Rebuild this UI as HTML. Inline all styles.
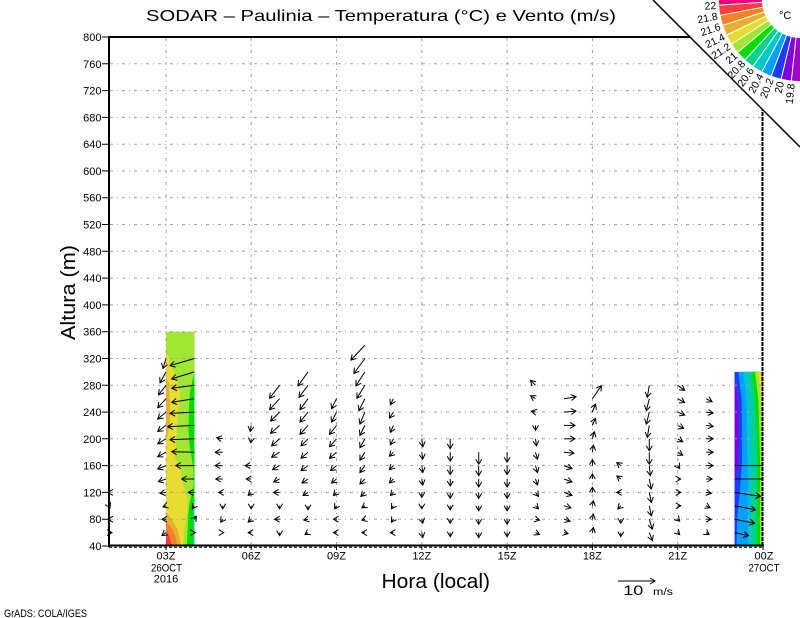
<!DOCTYPE html>
<html><head><meta charset="utf-8"><style>
html,body{margin:0;padding:0;background:#fff;}
svg{display:block;}
text{font-family:"Liberation Sans",sans-serif;fill:#000;}
</style></head><body>
<svg width="800" height="618" viewBox="0 0 800 618" xmlns="http://www.w3.org/2000/svg">
<defs>
<marker id="h" markerUnits="userSpaceOnUse" markerWidth="10" markerHeight="10" refX="6" refY="5" orient="auto" overflow="visible">
<path d="M1 2 L6 5 L1 8" fill="none" stroke="#000" stroke-width="1"/>
</marker>
</defs>
<rect width="800" height="618" fill="#fff"/>

<!-- 03Z shaded column -->
<rect x="166" y="331.7" width="28.5" height="214.3" fill="#a0e632"/>
<polygon fill="#e6dc32" points="166,355 168,355 175,375 180,392 180,402 178,412 176.7,435 175,458 180,468 183,485 188,500 187,512 185,525 183,546 166,546"/>
<polygon fill="#e6af2d" points="166,378 169,383 170,400 170,425 166,440"/>
<polygon fill="#e6af2d" points="166,512 172,520 178,530 181,546 166,546"/>
<polygon fill="#f08228" points="166,522 171,527 176,538 177,546 166,546"/>
<polygon fill="#fa3c3c" points="166,530 169,535 172,546 166,546"/>
<polygon fill="#f00082" points="166,538 168,546 166,546"/>
<polygon fill="#00dc00" points="194.5,373 192,382 190,392 189,405 188.5,430 189.5,445 191.7,458 193.5,470 193.5,485 191.7,495 189.5,503 188.3,515 187.7,530 186.7,546 194.5,546"/>
<polygon fill="#00d28c" points="194.5,505 193,512 192.5,546 194.5,546"/>

<!-- 23Z shaded column -->
<rect x="734.5" y="371.9" width="28.5" height="174.1" fill="#1e3cff"/>
<polygon fill="#8200dc" points="734.5,385 737,390 738.3,410 738.3,450 737.5,470 734.5,478"/>
<polygon fill="#00a0ff" points="738.3,371.9 741.7,400 742,430 742,460 740,490 737,520 736.5,546 763,546 763,371.9"/>
<polygon fill="#00c8c8" points="743.3,371.9 746.7,400 747,430 747.5,460 748.5,490 748,520 748,546 763,546 763,371.9"/>
<polygon fill="#00d28c" points="748.3,371.9 751.7,400 751.5,430 752,460 752,490 752,520 751.7,546 763,546 763,371.9"/>
<polygon fill="#00dc00" points="751.7,371.9 755,400 756.7,430 757.5,460 757,490 756.7,520 756.7,546 763,546 763,371.9"/>
<polygon fill="#a0e632" points="755,371.9 758.3,400 759.3,430 760,460 760,490 760,520 760,546 763,546 763,371.9"/>
<polygon fill="#e6dc32" points="758.3,371.9 761,400 761.7,430 762.5,460 763,475 763,371.9"/>
<polygon fill="#e6af2d" points="761,371.9 762,390 763,400 763,371.9"/>

<!-- grid -->
<g stroke="#a0a0a0" stroke-width="1" stroke-dasharray="3 4 1 4" fill="none">
<path d="M110 519.2H762M110 492.4H762M110 465.6H762M110 438.8H762M110 412.1H762M110 385.3H762M110 358.5H762M110 331.7H762M110 304.9H762M110 278.1H762M110 251.3H762M110 224.5H762M110 197.7H762M110 170.9H762M110 144.2H762M110 117.4H762M110 90.6H762M110 63.8H762"/>
<path d="M166 38V545M251.2 38V545M336.5 38V545M421.8 38V545M507.1 38V545M592.4 38V545M677.7 38V545"/>
</g>

<!-- wind arrows -->
<g fill="none" stroke="#000" stroke-width="1" style="marker-end:url(#h)">
<path d="M109 492.4l-1 0"/><path d="M109 505.8l1 2"/><path d="M109 519.2l-1 0"/><path d="M109 532.6l3 0"/>

<path d="M166 358.5l-3 10"/><path d="M166 371.9l-6 11"/><path d="M166 385.3l-7.5 9.5"/><path d="M166 398.7l-8.3 9"/><path d="M166 412.1l-8.3 7"/><path d="M166 425.4l-8.3 6"/><path d="M166 438.8l-8.3 5"/><path d="M166 452.2l-8.3 4.5"/><path d="M166 465.6l-8.3 3.4"/><path d="M166 479l-7.7 2.7"/><path d="M166 492.4l-6 1"/><path d="M166 505.8l-3 1"/><path d="M166 519.2l-4 0"/><path d="M166 532.6l-4 3"/>

<path d="M194.3 358.5l-24.3 7.2"/><path d="M194.3 371.9l-22.6 7"/><path d="M194.3 385.3l-22.6 3"/><path d="M194.3 398.7l-22.6 3.6"/><path d="M194.3 412.1l-24.3 1.3"/><path d="M194.3 425.4l-26.6 1.3"/><path d="M194.3 438.8l-24.3 1"/><path d="M194.3 452.2l-22.6 -0.5"/><path d="M194.3 465.6l-18.6 0"/><path d="M194.3 479l-12.6 0"/><path d="M194.3 492.4l-6 0"/><path d="M194.3 505.8l-2 3"/><path d="M194.3 519.2l2 -3"/><path d="M194.3 532.6l1 0"/>

<path d="M222.7 438.8l-6 -1"/><path d="M222.7 452.2l-7.5 0"/><path d="M222.7 465.6l-7.5 0"/><path d="M222.7 479l-7 0"/><path d="M222.7 492.4l-4 0"/><path d="M222.7 505.8l0 3"/><path d="M222.7 519.2l-2 3"/><path d="M222.7 532.6l1 0"/>

<path d="M251.2 425.4l-1 6"/><path d="M251.2 438.8l-0.5 4"/><path d="M251.2 465.6l-6 0"/><path d="M251.2 479l-5 0"/><path d="M251.2 492.4l-3 3"/><path d="M251.2 505.8l0 3"/><path d="M251.2 519.2l-3 3"/><path d="M251.2 532.6l-3 0"/>

<path d="M279.6 385.3l-10 13"/><path d="M279.6 398.7l-10 11"/><path d="M279.6 412.1l-9 9"/><path d="M279.6 425.4l-9 8"/><path d="M279.6 438.8l-8 7"/><path d="M279.6 452.2l-8 5"/><path d="M279.6 465.6l-7 4"/><path d="M279.6 479l-6 3"/><path d="M279.6 492.4l-6 0"/><path d="M279.6 505.8l0 3"/><path d="M279.6 519.2l-5 0"/><path d="M279.6 532.6l0 3"/>

<path d="M308 371.9l-10 14"/><path d="M308 385.3l-9 12"/><path d="M308 398.7l-8 11"/><path d="M308 412.1l-8 10"/><path d="M308 425.4l-8 9"/><path d="M308 438.8l-7 7"/><path d="M308 452.2l-7 6"/><path d="M308 465.6l-7 5"/><path d="M308 479l-6 4"/><path d="M308 492.4l-5 3"/><path d="M308 505.8l0 4"/><path d="M308 519.2l-4 1"/><path d="M308 532.6l-3 2"/>

<path d="M336.5 398.7l-5 10"/><path d="M336.5 412.1l-5 10"/><path d="M336.5 425.4l-7 9"/><path d="M336.5 438.8l-7 8"/><path d="M336.5 452.2l-7 6"/><path d="M336.5 465.6l-6 5"/><path d="M336.5 479l-5 4"/><path d="M336.5 492.4l-3 3"/><path d="M336.5 505.8l-2 3"/><path d="M336.5 519.2l-3 0"/><path d="M336.5 532.6l-3 0"/>

<path d="M364.9 345.1l-14 15"/><path d="M364.9 358.5l-11 15"/><path d="M364.9 371.9l-9 14"/><path d="M364.9 385.3l-8 13"/><path d="M364.9 398.7l-6 12"/><path d="M364.9 412.1l-5 12"/><path d="M364.9 425.4l-5 10"/><path d="M364.9 438.8l-5 9"/><path d="M364.9 452.2l-5 8"/><path d="M364.9 465.6l-5 7"/><path d="M364.9 479l-5 5"/><path d="M364.9 492.4l-4 4"/><path d="M364.9 505.8l-3 2"/><path d="M364.9 519.2l-3 1"/><path d="M364.9 532.6l-3 0"/>

<path d="M393.4 398.7l-3 6"/><path d="M393.4 412.1l-4 6"/><path d="M393.4 425.4l-3 7"/><path d="M393.4 438.8l-3 6"/><path d="M393.4 452.2l-4 4"/><path d="M393.4 465.6l-4 4"/><path d="M393.4 479l-4 4"/><path d="M393.4 492.4l-3 3"/><path d="M393.4 505.8l-2 3"/><path d="M393.4 519.2l-2 3"/><path d="M393.4 532.6l-3 0"/>

<path d="M421.8 438.8l1 8"/><path d="M421.8 452.2l1 7"/><path d="M421.8 465.6l1 7"/><path d="M421.8 479l1 6"/><path d="M421.8 492.4l0 5"/><path d="M421.8 505.8l0 3"/><path d="M421.8 519.2l1 4"/><path d="M421.8 532.6l1 5"/>

<path d="M450.2 438.8l0 10"/><path d="M450.2 452.2l0 9"/><path d="M450.2 465.6l0 9"/><path d="M450.2 479l0 7"/><path d="M450.2 492.4l0 6"/><path d="M450.2 505.8l0 4"/><path d="M450.2 519.2l0 4"/><path d="M450.2 532.6l0 4"/>

<path d="M478.7 452.2l0 12"/><path d="M478.7 465.6l0 10"/><path d="M478.7 479l0 8"/><path d="M478.7 492.4l0 6"/><path d="M478.7 505.8l0 5"/><path d="M478.7 519.2l0 5"/><path d="M478.7 532.6l0 5"/>

<path d="M507.1 452.2l0 10"/><path d="M507.1 465.6l0 9"/><path d="M507.1 479l0 8"/><path d="M507.1 492.4l0 6"/><path d="M507.1 505.8l0 5"/><path d="M507.1 519.2l0 5"/><path d="M507.1 532.6l0 4"/>

<path d="M535.5 385.3l-5 -5"/><path d="M535.5 398.7l-5 -3"/><path d="M535.5 412.1l-4 -1"/><path d="M535.5 425.4l0 5"/><path d="M535.5 438.8l1 7"/><path d="M535.5 452.2l2 7"/><path d="M535.5 465.6l2 7"/><path d="M535.5 479l2 6"/><path d="M535.5 492.4l3 4"/><path d="M535.5 505.8l3 3"/><path d="M535.5 519.2l4 1"/><path d="M535.5 532.6l4 2"/>

<path d="M564 398.7l12 -2"/><path d="M564 412.1l12 -1"/><path d="M564 425.4l11 0"/><path d="M564 438.8l11 0"/><path d="M564 452.2l10 1"/><path d="M564 465.6l8 3"/><path d="M564 479l8 3"/><path d="M564 492.4l8 3"/><path d="M564 505.8l7 2"/><path d="M564 519.2l6 2"/><path d="M564 532.6l4 1"/>

<path d="M592.4 398.7l9 -13"/><path d="M592.4 412.1l3 -8"/><path d="M592.4 425.4l3 -7"/><path d="M592.4 438.8l2 -7"/><path d="M592.4 452.2l1 -7"/><path d="M592.4 465.6l0 -6"/><path d="M592.4 479l0 -5"/><path d="M592.4 492.4l0 -5"/><path d="M592.4 505.8l1 -5"/><path d="M592.4 519.2l1 -5"/><path d="M592.4 532.6l1 -5"/>

<path d="M620.8 465.6l-4 -3"/><path d="M620.8 479l-4 -3"/><path d="M620.8 492.4l-4 0"/><path d="M620.8 505.8l-3 3"/><path d="M620.8 519.2l0 4"/><path d="M620.8 532.6l0 4"/>

<path d="M649.3 385.3l-2 12"/><path d="M649.3 398.7l-3 12"/><path d="M649.3 412.1l-3 12"/><path d="M649.3 425.4l-2 12"/><path d="M649.3 438.8l0 12"/><path d="M649.3 452.2l0 12"/><path d="M649.3 465.6l1 10"/><path d="M649.3 479l2 10"/><path d="M649.3 492.4l2 10"/><path d="M649.3 505.8l2 10"/><path d="M649.3 519.2l3 10"/><path d="M649.3 532.6l3 8"/>

<path d="M677.7 385.3l7 5"/><path d="M677.7 398.7l7 4"/><path d="M677.7 412.1l7 3"/><path d="M677.7 425.4l6 3"/><path d="M677.7 438.8l5 3"/><path d="M677.7 452.2l5 3"/><path d="M677.7 465.6l2 3"/><path d="M677.7 479l3 0"/><path d="M677.7 492.4l3 0"/><path d="M677.7 505.8l3 0"/><path d="M677.7 519.2l2 2"/><path d="M677.7 532.6l2 2"/>

<path d="M706.1 398.7l6 3"/><path d="M706.1 412.1l7 1"/><path d="M706.1 425.4l7 1"/><path d="M706.1 438.8l7 0"/><path d="M706.1 452.2l7 0"/><path d="M706.1 465.6l7 0"/><path d="M706.1 479l6 0"/><path d="M706.1 492.4l5 1"/><path d="M706.1 505.8l4 2"/><path d="M706.1 519.2l5 0"/><path d="M706.1 532.6l3 2"/>

<path d="M734.6 492.4l26 4"/><path d="M734.6 505.8l21 4"/><path d="M734.6 519.2l20 4"/><path d="M734.6 532.6l14 3"/>

<!-- reference arrow -->
<path d="M618 581H655"/>
</g>
<path d="M734.6 465.6H763M734.6 479H763" stroke="#000" stroke-width="1" fill="none"/>

<!-- frame -->
<g stroke="#000" fill="none">
<path d="M108 37H763" stroke-width="2"/>
<path d="M109 36V547" stroke-width="2"/>
<path d="M108 545.5H764" stroke-width="2"/>
<path d="M109 547.3H763" stroke-width="1" stroke-dasharray="3 2"/>
<path d="M762.5 37V546" stroke-width="2" stroke-dasharray="4 1"/>
<path d="M102 37h7M102 63.8h7M102 90.6h7M102 117.4h7M102 144.2h7M102 170.9h7M102 197.7h7M102 224.5h7M102 251.3h7M102 278.1h7M102 304.9h7M102 331.7h7M102 358.5h7M102 385.3h7M102 412.1h7M102 438.8h7M102 465.6h7M102 492.4h7M102 519.2h7M102 546h7" stroke-width="1"/>
<path d="M166 546v4M251.2 546v4M336.5 546v4M421.8 546v4M507.1 546v4M592.4 546v4M677.7 546v4M763 546v4" stroke-width="1"/>
</g>

<!-- y tick labels -->
<g font-size="11" text-anchor="end">
<text x="101.5" y="41">800</text><text x="101.5" y="67.8">760</text><text x="101.5" y="94.6">720</text><text x="101.5" y="121.4">680</text><text x="101.5" y="148.2">640</text><text x="101.5" y="174.9">600</text><text x="101.5" y="201.7">560</text><text x="101.5" y="228.5">520</text><text x="101.5" y="255.3">480</text><text x="101.5" y="282.1">440</text><text x="101.5" y="308.9">400</text><text x="101.5" y="335.7">360</text><text x="101.5" y="362.5">320</text><text x="101.5" y="389.3">280</text><text x="101.5" y="416.1">240</text><text x="101.5" y="442.8">200</text><text x="101.5" y="469.6">160</text><text x="101.5" y="496.4">120</text><text x="101.5" y="523.2">80</text><text x="101.5" y="550">40</text>
</g>

<!-- x tick labels -->
<g font-size="11" text-anchor="middle">
<text x="166" y="559.3">03Z</text>
<text x="166.5" y="571.7" textLength="31" lengthAdjust="spacingAndGlyphs">26OCT</text>
<text x="166" y="582.7">2016</text>
<text x="251.2" y="559.3">06Z</text>
<text x="336.5" y="559.3">09Z</text>
<text x="421.8" y="559.3">12Z</text>
<text x="507.1" y="559.3">15Z</text>
<text x="592.4" y="559.3">18Z</text>
<text x="677.7" y="559.3">21Z</text>
<text x="764" y="559.3">00Z</text>
<text x="764" y="571.7" textLength="31" lengthAdjust="spacingAndGlyphs">27OCT</text>
</g>

<!-- titles -->
<text x="146" y="21" font-size="16" textLength="470" lengthAdjust="spacingAndGlyphs">SODAR – Paulinia – Temperatura (°C) e Vento (m/s)</text>
<text transform="translate(75,340) rotate(-90)" font-size="20" textLength="95" lengthAdjust="spacingAndGlyphs">Altura (m)</text>
<text x="381.5" y="588" font-size="20" textLength="108.5" lengthAdjust="spacingAndGlyphs">Hora (local)</text>
<text x="623.3" y="595" font-size="14" textLength="20" lengthAdjust="spacingAndGlyphs">10</text>
<text x="653" y="595" font-size="10" textLength="20" lengthAdjust="spacingAndGlyphs">m/s</text>
<text x="4" y="617" font-size="11" textLength="83" lengthAdjust="spacingAndGlyphs">GrADS: COLA/IGES</text>

<!-- corner colorbar -->
<polygon points="653,0 800,0 800,147" fill="#fff"/>
<path d="M653 0L800 147" stroke="#000" stroke-width="1.5"/>
<g fill="none" stroke-width="43">
<path d="M740.62 -3.84A59.5 59.5 0 0 0 740.62 3.74" stroke="#f00082"/>
<path d="M740.62 3.74A59.5 59.5 0 0 0 741.57 11.25" stroke="#fa3c3c"/>
<path d="M741.57 11.25A59.5 59.5 0 0 0 743.48 18.58" stroke="#f08228"/>
<path d="M743.48 18.58A59.5 59.5 0 0 0 746.30 25.62" stroke="#e6af2d"/>
<path d="M746.30 25.62A59.5 59.5 0 0 0 749.99 32.23" stroke="#e6dc32"/>
<path d="M749.99 32.23A59.5 59.5 0 0 0 754.49 38.33" stroke="#a0e632"/>
<path d="M754.49 38.33A59.5 59.5 0 0 0 759.73 43.80" stroke="#00dc00"/>
<path d="M759.73 43.80A59.5 59.5 0 0 0 765.62 48.56" stroke="#00d28c"/>
<path d="M765.62 48.56A59.5 59.5 0 0 0 772.07 52.54" stroke="#00c8c8"/>
<path d="M772.07 52.54A59.5 59.5 0 0 0 778.97 55.66" stroke="#00a0ff"/>
<path d="M778.97 55.66A59.5 59.5 0 0 0 786.21 57.88" stroke="#1e3cff"/>
<path d="M786.21 57.88A59.5 59.5 0 0 0 793.68 59.16" stroke="#8200dc"/>
<path d="M793.68 59.16A59.5 59.5 0 0 0 801.25 59.49" stroke="#a000c8"/>
</g>
<path stroke="#fff" stroke-width="1" d="M762.07 2.39L719.16 5.09M762.69 7.19L720.46 15.32M763.90 11.87L723.05 25.30M765.70 16.36L726.89 34.87M768.06 20.58L731.91 43.88M770.93 24.48L738.04 52.17M774.28 27.97L745.18 59.62M778.04 31.01L753.19 66.11M782.16 33.55L761.97 71.52M786.57 35.55L771.37 75.77M791.19 36.97L781.23 78.79M795.96 37.78L791.39 80.54"/>
<g font-size="10.5" text-anchor="end">
<text transform="translate(716.2,5.3) rotate(-3.6)" dy="3.7">22</text>
<text transform="translate(717.5,15.9) rotate(-10.9)" dy="3.7">21.8</text>
<text transform="translate(720.2,26.2) rotate(-18.2)" dy="3.7">21.6</text>
<text transform="translate(724.2,36.2) rotate(-25.5)" dy="3.7">21.4</text>
<text transform="translate(729.4,45.5) rotate(-32.8)" dy="3.7">21.2</text>
<text transform="translate(735.8,54.1) rotate(-40.1)" dy="3.7">21</text>
<text transform="translate(743.2,61.8) rotate(-47.4)" dy="3.7">20.8</text>
<text transform="translate(751.5,68.6) rotate(-54.7)" dy="3.7">20.6</text>
<text transform="translate(760.6,74.2) rotate(-62)" dy="3.7">20.4</text>
<text transform="translate(770.3,78.6) rotate(-69.3)" dy="3.7">20.2</text>
<text transform="translate(780.5,81.7) rotate(-76.6)" dy="3.7">20</text>
<text transform="translate(791.1,83.5) rotate(-83.9)" dy="3.7">19.8</text>
</g>
<text x="779" y="19" font-size="11">°C</text>
</svg>
</body></html>
